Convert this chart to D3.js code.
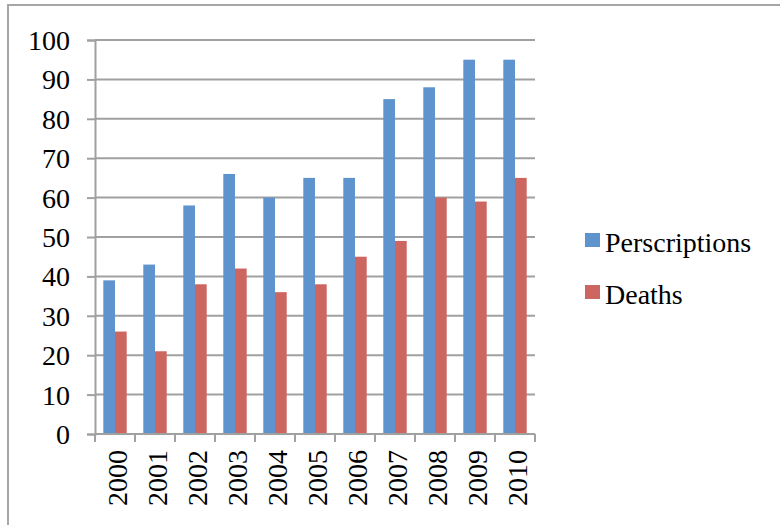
<!DOCTYPE html>
<html>
<head>
<meta charset="utf-8">
<style>
    body { margin: 0; background: #fff; }
    text { font-family: "Liberation Serif", "DejaVu Serif", serif; fill: #000; }
</style>
</head>
<body>
<svg></svg>
<script src="https://d3js.org/d3.v7.min.js"></script>
<script>
    // data
    let years = ["2000", "2001", "2002", "2003", "2004", "2005", "2006", "2007", "2008", "2009", "2010"];
    let seriesNames = ["Perscriptions", "Deaths"];
    let perscriptions = [39, 43, 58, 66, 60, 65, 65, 85, 88, 95, 95];
    let deaths = [26, 21, 38, 42, 36, 38, 45, 49, 60, 59, 65];
    let yTicks = [0, 10, 20, 30, 40, 50, 60, 70, 80, 90, 100];

    let width = 780,
        height = 525;

    let colors = {"Perscriptions": "#5F93CD", "Deaths": "#CD6660"};

    let svg = d3.select("svg")
        .attr("width", width)
        .attr("height", height);

    // outer frame (runs off the right / bottom edge)
    svg.append("rect")
        .attr("x", 8).attr("y", 5)
        .attr("width", 800).attr("height", 560)
        .attr("fill", "none")
        .attr("stroke", "#A6A6A6")
        .attr("stroke-width", 2);

    let plotLeft = 95, plotRight = 535, plotTop = 40, plotBottom = 434;

    let x0 = d3.scaleBand().domain(years).range([plotLeft, plotRight]).padding(0);
    let x1 = d3.scaleBand().domain(seriesNames).range([0, x0.bandwidth()]).paddingInner(0).paddingOuter(0.71);
    let y = d3.scaleLinear().domain([0, 100]).range([plotBottom, plotTop]);

    // gridlines + y ticks
    let yAxis = d3.axisLeft(y).tickValues(yTicks).tickSize(8).tickPadding(17);
    let yG = svg.append("g")
        .attr("transform", "translate(" + plotLeft + ",0)")
        .call(yAxis);
    yG.select(".domain").attr("stroke", "#A0A0A0").attr("stroke-width", 2);
    yG.selectAll(".tick line").attr("stroke", "#A0A0A0").attr("stroke-width", 2);
    yG.selectAll(".tick text")
        .style("font-family", "Liberation Serif")
        .style("font-size", "28px")
        .attr("dy", "0.34em");

    svg.append("g").selectAll("line")
        .data(yTicks.filter(function (d) { return d > 0; }))
        .enter().append("line")
        .attr("x1", plotLeft).attr("x2", plotRight)
        .attr("y1", function (d) { return y(d); })
        .attr("y2", function (d) { return y(d); })
        .attr("stroke", "#A0A0A0")
        .attr("stroke-width", 2);

    // bars
    let rows = years.map(function (yr, i) {
        return {year: yr, values: [
            {name: "Perscriptions", value: perscriptions[i]},
            {name: "Deaths", value: deaths[i]}
        ]};
    });

    svg.append("g").selectAll("g")
        .data(rows)
        .enter().append("g")
        .attr("transform", function (d) { return "translate(" + x0(d.year) + ",0)"; })
        .selectAll("rect")
        .data(function (d) { return d.values; })
        .enter().append("rect")
        .attr("x", function (d) { return x1(d.name); })
        .attr("width", x1.bandwidth())
        .attr("y", function (d) { return y(d.value); })
        .attr("height", function (d) { return plotBottom - y(d.value); })
        .attr("fill", function (d) { return colors[d.name]; });

    // x axis
    let xAxis = d3.axisBottom(x0).tickSize(0).tickPadding(0);
    let xG = svg.append("g")
        .attr("transform", "translate(0," + plotBottom + ")")
        .call(xAxis);
    xG.select(".domain").remove();
    xG.append("line")
        .attr("x1", plotLeft).attr("x2", plotRight)
        .attr("stroke", "#A0A0A0").attr("stroke-width", 2);
    xG.selectAll(".catTick")
        .data(years.concat(["end"]))
        .enter().append("line")
        .attr("x1", function (d, i) { return plotLeft + i * x0.step(); })
        .attr("x2", function (d, i) { return plotLeft + i * x0.step(); })
        .attr("y1", 0).attr("y2", 8)
        .attr("stroke", "#A0A0A0").attr("stroke-width", 2);
    xG.selectAll(".tick text")
        .style("font-family", "Liberation Serif")
        .style("font-size", "28px")
        .attr("text-anchor", "end")
        .attr("transform", "translate(2,16) rotate(-90)")
        .attr("x", 0).attr("y", 0)
        .attr("dy", "0.34em");

    // legend
    let legend = svg.append("g").selectAll("g")
        .data(seriesNames)
        .enter().append("g")
        .attr("transform", function (d, i) { return "translate(585," + (233 + i * 52) + ")"; });
    legend.append("rect")
        .attr("width", 15).attr("height", 14)
        .attr("fill", function (d) { return colors[d]; });
    legend.append("text")
        .attr("x", 20).attr("y", 19)
        .style("font-size", "28px")
        .text(function (d) { return d; });
</script>
</body>
</html>
